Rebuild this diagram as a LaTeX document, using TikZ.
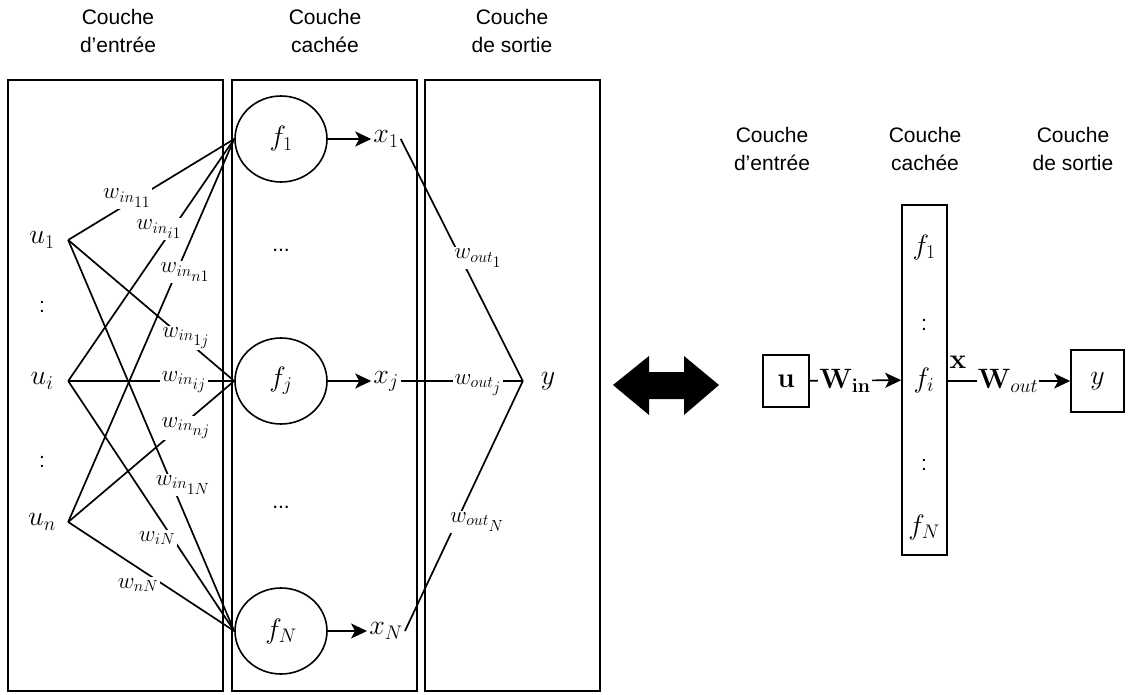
\RequirePackage{fix-cm}
\documentclass[tikz,border=0pt]{standalone}
\usepackage[no-math]{fontspec}
\setmainfont{Liberation Sans}
\usetikzlibrary{arrows.meta,shapes.geometric}
\newcommand{\mfs}{\fontsize{28}{32}\selectfont}
\newcommand{\lfs}{\fontsize{23}{26}\selectfont}
\newcommand{\subsz}[1]{{\scriptstyle #1}}
\begin{document}
\begin{tikzpicture}[x=1pt,y=-1pt,
  hdr/.style={font=\fontsize{21}{28}\selectfont, align=center},
  layer/.style={draw, line width=1.8pt, inner sep=0pt},
  neuron/.style={draw, line width=1.6pt, ellipse, minimum width=92pt, minimum height=86pt, inner sep=0pt, font=\mfs},
  var/.style={font=\mfs, inner sep=2pt},
  lbl/.style={font=\lfs, fill=white, inner sep=1.5pt},
  dots/.style={font=\fontsize{21}{24}\selectfont},
  wire/.style={line width=1.7pt},
  arr/.style={line width=1.7pt, -{Stealth[length=16pt,width=15pt,inset=4pt]}},
  rbox/.style={draw, line width=1.6pt, inner sep=0pt, font=\mfs},
]
\useasboundingbox (0,0) rectangle (1129,695);

% headers
\node[hdr] (h1) at (118,31) {Couche\\d'entrée};
\node[hdr] (h2) at (325,31) {Couche\\cachée};
\node[hdr] (h3) at (512,31) {Couche\\de sortie};
\node[hdr] (h4) at (772,149) {Couche\\d'entrée};
\node[hdr] (h5) at (925,149) {Couche\\cachée};
\node[hdr] (h6) at (1073,149) {Couche\\de sortie};

% layer boxes
\node[layer, minimum width=215pt, minimum height=611pt] (box1) at (115.5,385.5) {};
\node[layer, minimum width=185pt, minimum height=611pt] (box2) at (324.5,385.5) {};
\node[layer, minimum width=175pt, minimum height=611pt] (box3) at (512.5,385.5) {};

% inputs
\node[var, minimum width=52pt, inner sep=0pt] (u1) at (42,240) {$u_1$};
\node[var, minimum width=52pt, inner sep=0pt] (ui) at (42,381) {$u_i$};
\node[var, minimum width=52pt, inner sep=0pt] (un) at (42,522) {$u_n$};
\node[dots] (du1) at (42,307) {:};
\node[dots] (du2) at (42,462) {:};

% hidden neurons
\node[neuron] (f1) at (281,139) {$f_1$};
\node[neuron] (fj) at (281,381) {$f_j$};
\node[neuron] (fN) at (281,631) {$f_N$};
\node[dots] (df1) at (281,250) {...};
\node[dots] (df2) at (281,507) {...};

% states
\node[var] (x1) at (386,139) {$x_1$};
\node[var] (xj) at (386,381) {$x_j$};
\node[var] (xN) at (386,631) {$x_N$};
\node[var, minimum width=50pt, inner sep=0pt] (y) at (548,381) {$y$};

% input wires
\draw[wire] (u1.east) -- (f1.west);
\draw[wire] (ui.east) -- (f1.west);
\draw[wire] (un.east) -- (f1.west);
\draw[wire] (u1.east) -- (fj.west);
\draw[wire] (ui.east) -- (fj.west);
\draw[wire] (un.east) -- (fj.west);
\draw[wire] (u1.east) -- (fN.west);
\draw[wire] (ui.east) -- (fN.west);
\draw[wire] (un.east) -- (fN.west);

% output wires
\draw[arr] (f1) -- (x1);
\draw[arr] (fj) -- (xj);
\draw[arr] (fN) -- (xN);
\draw[wire] (x1.east) -- (y.west);
\draw[wire] (xj.east) -- (y.west);
\draw[wire] (xN.east) -- (y.west);

% weight labels
\node[lbl] (w11) at (127,198) {$w_{in_{\subsz{11}}}$};
\node[lbl] (wi1) at (159,229) {$w_{in_{\subsz{i1}}}$};
\node[lbl] (wn1) at (185,272) {$w_{in_{\subsz{n1}}}$};
\node[lbl] (w1j) at (186,338) {$w_{in_{\subsz{1j}}}$};
\node[lbl] (wij) at (184,382) {$w_{in_{\subsz{ij}}}$};
\node[lbl] (wnj) at (186,428) {$w_{in_{\subsz{nj}}}$};
\node[lbl] (w1N) at (183,485) {$w_{in_{\subsz{1N}}}$};
\node[lbl] (wiN) at (157,538) {$w_{iN}$};
\node[lbl] (wnN) at (138,585) {$w_{nN}$};
\node[lbl] (wo1) at (478,258) {$w_{out_{\subsz{1}}}$};
\node[lbl] (woj) at (478,385) {$w_{out_{\subsz{j}}}$};
\node[lbl] (woN) at (477,522) {$w_{out_{\subsz{N}}}$};

% double arrow
\fill (613,385) -- (649,356) -- (649,372) -- (684,372) -- (684,356) -- (719,385)
  -- (684,415) -- (684,399) -- (649,399) -- (649,415) -- cycle;

% compact view
\node[rbox, minimum width=46pt, minimum height=52pt] (ub) at (786,381) {$\mathbf{u}$};
\node[rbox, minimum width=45pt, minimum height=350pt] (fb) at (924.5,380) {};
\node[var] (fr1) at (924,247) {$f_1$};
\node[dots] (dr1) at (924,325) {:};
\node[var] (fri) at (924,380) {$f_i$};
\node[dots] (dr2) at (924,465) {:};
\node[var] (frN) at (924,527) {$f_N$};
\node[rbox, minimum width=53pt, minimum height=62pt] (yb) at (1097.5,381) {$y$};

\draw[arr] (ub) -- (fb);
\node[font=\mfs, fill=white, inner sep=1pt] (Win) at (845,381) {$\mathbf{W}_{\mathbf{in}}$};
\draw[arr] (fb.east |- yb.west) -- (yb.west);
\node[font=\mfs, inner sep=0pt] (xr) at (958,362) {$\mathbf{x}$};
\node[font=\mfs, fill=white, inner sep=1pt] (Wout) at (1008,381) {$\mathbf{W}_{out}$};
\end{tikzpicture}
\end{document}
